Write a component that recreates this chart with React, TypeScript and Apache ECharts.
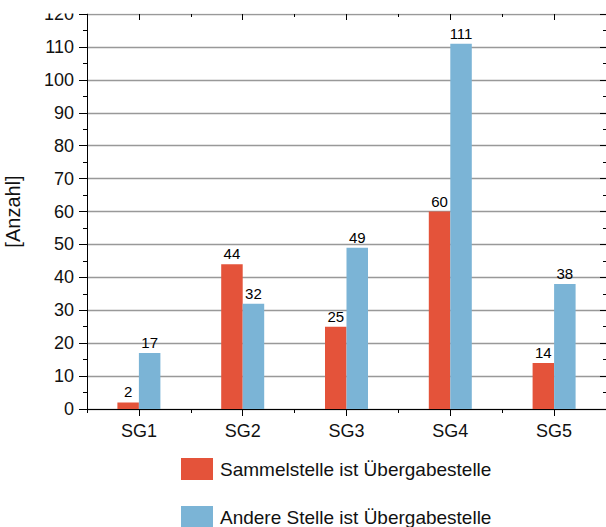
import React, { useEffect, useRef } from "react";
import * as echarts from "echarts";

const categories = ["SG1", "SG2", "SG3", "SG4", "SG5"];
const sammelstelle = [2, 44, 25, 60, 14];
const andereStelle = [17, 32, 49, 111, 38];
const seriesNames = ["Sammelstelle ist Übergabestelle", "Andere Stelle ist Übergabestelle"];
const yTickMin = 0;
const yTickMax = 120;
const yTickStep = 10;

const FONT = "'Liberation Sans', Arial, sans-serif";
const RED = "#E4533A";
const BLUE = "#7BB4D6";

export default function App() {
  const ref = useRef<HTMLDivElement>(null);

  useEffect(() => {
    if (!ref.current) return;
    const chart = echarts.init(ref.current, null, { renderer: "svg" });
    const grid = { left: 87, right: 4, top: 14, bottom: 118, outerBoundsMode: "none", containLabel: false };
    const baseCat = { type: "category", data: categories, gridIndex: 0 };
    const legendBase = {
      orient: "vertical",
      left: 176,
      itemWidth: 32,
      itemHeight: 22,
      icon: "rect",
      textStyle: { color: "#111", fontSize: 19, fontFamily: FONT, padding: [0, 0, 0, 2] },
    };
    const valueLabel = {
      show: true,
      position: "top",
      distance: 3,
      color: "#000",
      fontSize: 15,
      fontFamily: FONT,
    };
    chart.setOption({
      animation: false,
      textStyle: { fontFamily: FONT },
      grid,
      xAxis: [
        {
          ...baseCat,
          position: "bottom",
          axisLine: { show: true, lineStyle: { color: "#000", width: 1 } },
          axisTick: { show: true, alignWithLabel: true, length: 7, lineStyle: { color: "#000" } },
          axisLabel: { color: "#111", fontSize: 18, fontFamily: FONT, margin: 13 },
        },
        {
          ...baseCat,
          position: "bottom",
          axisLine: { show: false },
          axisTick: { show: true, length: 4, lineStyle: { color: "#000" } },
          axisLabel: { show: false },
        },
        {
          ...baseCat,
          position: "top",
          axisLine: { show: false },
          axisTick: { show: true, inside: true, alignWithLabel: true, length: 6, lineStyle: { color: "#000" } },
          axisLabel: { show: false },
        },
        {
          ...baseCat,
          position: "top",
          axisLine: { show: false },
          axisTick: { show: true, inside: true, length: 3, lineStyle: { color: "#000" } },
          axisLabel: { show: false },
        },
      ],
      yAxis: [
        {
          type: "value",
          min: yTickMin,
          max: yTickMax,
          interval: yTickStep,
          name: "[Anzahl]",
          nameLocation: "middle",
          nameGap: 64,
          nameTextStyle: { color: "#111", fontSize: 20, fontFamily: FONT },
          axisLine: { show: true, lineStyle: { color: "#000" } },
          axisTick: { show: true, length: 8, lineStyle: { color: "#000" } },
          minorTick: { show: true, splitNumber: 2, length: 4, lineStyle: { color: "#000" } },
          axisLabel: { color: "#111", fontSize: 18, fontFamily: FONT, margin: 13 },
          splitLine: { show: true, lineStyle: { color: "#999", width: 1.3 } },
        },
        {
          type: "value",
          min: yTickMin,
          max: yTickMax,
          interval: yTickStep,
          position: "right",
          axisLine: { show: true, lineStyle: { color: "#000" } },
          axisTick: { show: true, inside: true, length: 6, lineStyle: { color: "#000" } },
          minorTick: { show: true, splitNumber: 2, length: 3, lineStyle: { color: "#000" } },
          axisLabel: { show: false },
          splitLine: { show: false },
        },
      ],
      legend: [
        { ...legendBase, top: 453, data: [seriesNames[0]] },
        { ...legendBase, top: 501, data: [seriesNames[1]] },
      ],
      series: [
        {
          name: seriesNames[0],
          type: "bar",
          data: sammelstelle,
          barWidth: 21.5,
          barGap: "0%",
          itemStyle: { color: RED },
          label: valueLabel,
        },
        {
          name: seriesNames[1],
          type: "bar",
          data: andereStelle,
          barWidth: 21.5,
          barGap: "0%",
          itemStyle: { color: BLUE },
          label: valueLabel,
        },
      ],
      graphic: [
        {
          type: "rect",
          left: 0,
          top: 0,
          z: 100,
          shape: { width: 620, height: 13.5 },
          style: { fill: "#fff" },
        },
      ],
    });
    return () => chart.dispose();
  }, []);

  return (
    <div
      ref={ref}
      style={{ position: "fixed", left: 0, top: 0, width: 610, height: 527, background: "#fff" }}
    />
  );
}
